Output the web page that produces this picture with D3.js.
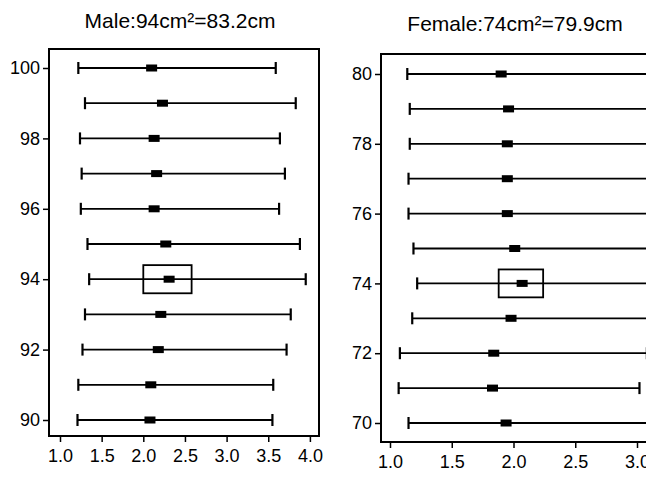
<!DOCTYPE html>
<html>
<head>
<meta charset="utf-8">
<script src="https://cdn.jsdelivr.net/npm/d3@7"></script>
<style>
  body { margin: 0; background: #fff; }
  svg { display: block; font-family: "Liberation Sans", Arial, sans-serif; }
  .tick text { font-size: 18px; fill: #000; }
  .tick line { stroke: #000; stroke-width: 1.5; }
</style>
</head>
<body>
<svg id="chart" width="646" height="480"></svg>
<script>
// Male panel: waist circumference rows (cm) and whisker / median values
const maleRows = [100, 99, 98, 97, 96, 95, 94, 93, 92, 91, 90];
const maleLow = [1.22, 1.30, 1.24, 1.26, 1.25, 1.33, 1.35, 1.30, 1.27, 1.22, 1.21];
const maleMid = [2.10, 2.23, 2.13, 2.16, 2.13, 2.27, 2.31, 2.21, 2.18, 2.09, 2.08];
const maleHigh = [3.59, 3.83, 3.64, 3.70, 3.63, 3.88, 3.95, 3.77, 3.72, 3.56, 3.55];
const maleBox = { row: 94, x0: 2.0, x1: 2.58 };

// Female panel
const femaleRows = [80, 79, 78, 77, 76, 75, 74, 73, 72, 71, 70];
const femaleLow = [1.14, 1.16, 1.16, 1.15, 1.15, 1.19, 1.22, 1.18, 1.08, 1.07, 1.15];
const femaleMid = [1.90, 1.96, 1.95, 1.95, 1.95, 2.01, 2.07, 1.98, 1.84, 1.83, 1.94];
const femaleHigh = [3.25, 3.20, 3.22, 3.24, 3.20, 3.22, 3.26, 3.18, 3.08, 3.02, 3.22];
const femaleBox = { row: 74, x0: 1.88, x1: 2.24 };

const maleXTicks = [1.0, 1.5, 2.0, 2.5, 3.0, 3.5, 4.0];
const maleYTicks = [90, 92, 94, 96, 98, 100];
const femaleXTicks = [1.0, 1.5, 2.0, 2.5, 3.0];
const femaleYTicks = [70, 72, 74, 76, 78, 80];

const svg = d3.select("#chart");

function drawPanel(opt) {
  const g = svg.append("g");

  const x = d3.scaleLinear().domain(opt.xDomain).range([opt.left, opt.right]);
  const y = d3.scaleLinear().domain(opt.yDomain).range([opt.bottom, opt.top]);

  // title
  g.append("text")
    .attr("x", opt.titleX)
    .attr("y", opt.titleY)
    .attr("text-anchor", "middle")
    .style("font-size", "21px")
    .text(opt.title);

  // frame
  g.append("rect")
    .attr("x", opt.left)
    .attr("y", opt.top)
    .attr("width", opt.right - opt.left)
    .attr("height", opt.bottom - opt.top)
    .attr("fill", "none")
    .attr("stroke", "#000")
    .attr("stroke-width", 2);

  // axes
  const yAxis = g.append("g")
    .attr("transform", "translate(" + opt.left + ",0)")
    .call(d3.axisLeft(y).tickValues(opt.yTicks).tickSize(6).tickPadding(3).tickFormat(d3.format("d")));
  yAxis.select(".domain").remove();

  const xAxis = g.append("g")
    .attr("transform", "translate(0," + opt.bottom + ")")
    .call(d3.axisBottom(x).tickValues(opt.xTicks).tickSize(6).tickPadding(7).tickFormat(d3.format(".1f")));
  xAxis.select(".domain").remove();

  const rows = opt.rows.map((r, i) => ({ row: r, lo: opt.low[i], mid: opt.mid[i], hi: opt.high[i] }));

  const row = g.selectAll(".row")
    .data(rows)
    .enter()
    .append("g")
    .attr("class", "row");

  row.append("line")
    .attr("x1", (d) => x(d.lo))
    .attr("x2", (d) => x(d.hi))
    .attr("y1", (d) => y(d.row))
    .attr("y2", (d) => y(d.row))
    .attr("stroke", "#000")
    .attr("stroke-width", 1.8);

  // whisker caps
  ["lo", "hi"].forEach((k) => {
    row.append("line")
      .attr("x1", (d) => x(d[k]))
      .attr("x2", (d) => x(d[k]))
      .attr("y1", (d) => y(d.row) - 6)
      .attr("y2", (d) => y(d.row) + 6)
      .attr("stroke", "#000")
      .attr("stroke-width", 2.2);
  });

  // median marker
  row.append("rect")
    .attr("x", (d) => x(d.mid) - 5.5)
    .attr("y", (d) => y(d.row) - 3.5)
    .attr("width", 11)
    .attr("height", 7)
    .attr("fill", "#000");

  // highlighted box
  g.append("rect")
    .attr("x", x(opt.box.x0))
    .attr("y", y(opt.box.row + 0.4))
    .attr("width", x(opt.box.x1) - x(opt.box.x0))
    .attr("height", y(opt.box.row - 0.4) - y(opt.box.row + 0.4))
    .attr("fill", "none")
    .attr("stroke", "#000")
    .attr("stroke-width", 1.8);
}

drawPanel({
  title: "Male:94cm\u00b2=83.2cm",
  titleX: 180, titleY: 28,
  left: 49, right: 319, top: 49, bottom: 436,
  xDomain: [1 - 11 / 83.3, 1 + 259 / 83.3],
  yDomain: [90 - 16 / 35.2, 100 + 19 / 35.2],
  xTicks: maleXTicks, yTicks: maleYTicks,
  rows: maleRows, low: maleLow, mid: maleMid, high: maleHigh,
  box: maleBox
});

drawPanel({
  title: "Female:74cm\u00b2=79.9cm",
  titleX: 515, titleY: 31,
  left: 381, right: 700, top: 54, bottom: 442,
  xDomain: [1 - 9 / 123.5, 1 + 310 / 123.5],
  yDomain: [70 - 19 / 34.9, 80 + 20 / 34.9],
  xTicks: femaleXTicks, yTicks: femaleYTicks,
  rows: femaleRows, low: femaleLow, mid: femaleMid, high: femaleHigh,
  box: femaleBox
});
</script>
</body>
</html>
